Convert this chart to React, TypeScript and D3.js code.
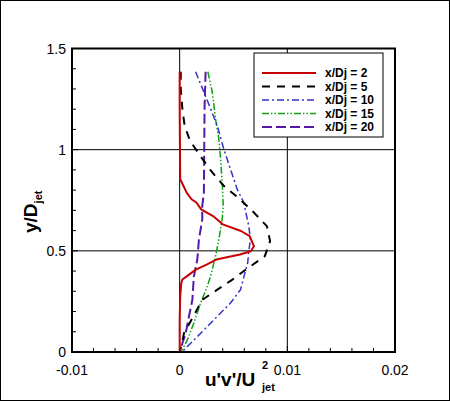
import React from "react";
import * as d3 from "d3";

// ---- data (x values in units of 1e-3) ----
const yX2 = [1.385, 1.2, 0.854, 0.838, 0.788, 0.755, 0.739, 0.705, 0.672, 0.631, 0.598, 0.573, 0.523, 0.498, 0.482, 0.457, 0.432, 0.407, 0.374, 0.358, 0.341, 0.275, 0.159, 0.0];
const vX2 = [0, 0, 0.05, 0.2, 0.65, 1.1, 1.55, 2.0, 3.1, 4.0, 5.7, 6.5, 6.9, 6.6, 5.6, 3.4, 2.5, 1.5, 0.65, 0.25, 0.15, 0.05, 0.0, 0.0];

const yX5 = [1.385, 1.302, 1.202, 1.119, 1.045, 0.97, 0.896, 0.821, 0.755, 0.689, 0.622, 0.548, 0.473, 0.417, 0.358, 0.308, 0.258, 0.169, 0.093, 0.051, 0.0];
const vX5 = [0.1, 0.1, 0.25, 0.46, 0.95, 1.9, 2.9, 4.1, 5.6, 6.9, 8.1, 8.4, 7.9, 6.4, 4.9, 3.5, 2.1, 1.2, 0.4, 0.25, 0.0];

const yX10 = [1.385, 1.285, 1.202, 1.119, 1.003, 0.904, 0.805, 0.739, 0.622, 0.556, 0.498, 0.441, 0.399, 0.308, 0.242, 0.159, 0.076, 0.01, 0.0];
const vX10 = [1.48, 2.25, 2.87, 3.49, 4.1, 4.72, 5.34, 5.95, 6.42, 6.57, 6.42, 6.32, 6.1, 5.65, 4.72, 3.18, 1.64, 0.4, 0.0];

const yX15 = [1.385, 1.285, 1.152, 1.053, 0.954, 0.838, 0.722, 0.656, 0.556, 0.473, 0.374, 0.324, 0.242, 0.143, 0.06, 0.01, 0.0];
const vX15 = [2.62, 3.03, 3.33, 3.64, 3.8, 3.95, 4.05, 3.95, 3.64, 3.33, 2.87, 2.56, 1.94, 1.32, 0.71, 0.25, 0.0];

const yX20 = [1.385, 1.202, 0.788, 0.722, 0.656, 0.556, 0.457, 0.374, 0.258, 0.175, 0.093, 0.043, 0.01, 0.0];
const vX20 = [2.41, 2.31, 2.25, 2.1, 2.1, 1.79, 1.64, 1.32, 1.18, 0.86, 0.56, 0.25, 0.1, 0.0];

const seriesNames = ["x/Dj = 2", "x/Dj = 5", "x/Dj = 10", "x/Dj = 15", "x/Dj = 20"];
const seriesColors = ["#c80000", "#000000", "#3535cc", "#10a010", "#5518a8"];
const seriesDash = ["none", "8,7", "7,3,2,3", "7,2,1.5,2,1.5,2", "10,4"];
const seriesWidth = [2, 2, 1.5, 1.5, 2];

const xTickValues = [-0.01, 0, 0.01, 0.02];
const xTickLabels = ["-0.01", "0", "0.01", "0.02"];
const yTickValues = [0, 0.5, 1, 1.5];
const yTickLabels = ["0", "0.5", "1", "1.5"];

const FONT = "'Liberation Sans', Arial, Helvetica, sans-serif";

export default function App() {
  const W = 450, H = 401;
  const L = 72, R = 395, T = 48.5, B = 352;
  const x = d3.scaleLinear().domain([-0.01, 0.02]).range([L, R]);
  const y = d3.scaleLinear().domain([0, 1.5]).range([B, T]);

  const all = [
    [yX2, vX2],
    [yX5, vX5],
    [yX10, vX10],
    [yX15, vX15],
    [yX20, vX20],
  ];
  const line = d3
    .line<[number, number]>()
    .x((d) => x(d[0] * 0.001))
    .y((d) => y(d[1]));

  const paths = all.map(([ys, vs]) => line(ys.map((yy, i) => [vs[i], yy] as [number, number])) as string);

  const xMinor = d3.range(-0.01, 0.02001, 0.002);
  const yMinor = d3.range(0, 1.5001, 0.1);

  const legX = 254, legY = 53, legW = 129, legH = 84;
  const rowY = (i: number) => 73 + i * 13.5;

  return (
    <svg width={W} height={H} style={{ position: "absolute", left: 0, top: 0, background: "#fff" }}>
      <rect x={0.5} y={0.5} width={W - 1} height={H - 1} fill="#fff" stroke="#000" strokeWidth={1} />
      {/* grid */}
      {[0, 0.01].map((v) => (
        <line key={"gx" + v} x1={x(v)} x2={x(v)} y1={B} y2={T} stroke="#000" strokeWidth={1} />
      ))}
      {[0.5, 1].map((v) => (
        <line key={"gy" + v} x1={L} x2={R} y1={y(v)} y2={y(v)} stroke="#000" strokeWidth={1} />
      ))}
      {/* ticks */}
      {xMinor.map((v, i) => (
        <line key={"xt" + i} x1={x(v)} x2={x(v)} y1={B} y2={B - (i % 5 === 0 ? 6 : 4)} stroke="#000" strokeWidth={1} />
      ))}
      {yMinor.map((v, i) => (
        <line key={"yt" + i} x1={L} x2={L + (i % 5 === 0 ? 6 : 4)} y1={y(v)} y2={y(v)} stroke="#000" strokeWidth={1} />
      ))}
      {/* curves */}
      {[4, 3, 2, 1, 0].map((i) => (
        <path
          key={"s" + i}
          d={paths[i]}
          fill="none"
          stroke={seriesColors[i]}
          strokeWidth={seriesWidth[i]}
          strokeDasharray={seriesDash[i]}
          strokeLinejoin="round"
        />
      ))}
      {/* frame */}
      <rect x={L} y={T} width={R - L} height={B - T} fill="none" stroke="#000" strokeWidth={2} />
      {/* tick labels */}
      {xTickValues.map((v, i) => (
        <text key={"xl" + i} x={x(v)} y={375} textAnchor="middle" fontFamily={FONT} fontSize={14} fill="#000">
          {xTickLabels[i]}
        </text>
      ))}
      {yTickValues.map((v, i) => (
        <text key={"yl" + i} x={66} y={y(v) + 5} textAnchor="end" fontFamily={FONT} fontSize={14} fill="#000">
          {yTickLabels[i]}
        </text>
      ))}
      {/* axis titles */}
      <text x={205} y={386} fontFamily={FONT} fontSize={19} fontWeight="bold" fill="#000">
        u'v'/U
      </text>
      <text x={262} y={391} fontFamily={FONT} fontSize={11} fontWeight="bold" fill="#000">
        jet
      </text>
      <text x={262} y={369} fontFamily={FONT} fontSize={11} fontWeight="bold" fill="#000">
        2
      </text>
      <text
        transform="translate(37,233) rotate(-90)"
        fontFamily={FONT}
        fontSize={19}
        fontWeight="bold"
        fill="#000"
      >
        y/D
        <tspan fontSize={11} dy={5}>jet</tspan>
      </text>
      {/* legend */}
      <rect x={legX} y={legY} width={legW} height={legH} fill="#fff" stroke="#000" strokeWidth={1} />
      {seriesNames.map((n, i) => (
        <g key={"lg" + i}>
          <line
            x1={262}
            x2={316}
            y1={rowY(i)}
            y2={rowY(i)}
            stroke={seriesColors[i]}
            strokeWidth={seriesWidth[i]}
            strokeDasharray={seriesDash[i]}
          />
          <text x={325} y={rowY(i) + 4} fontFamily={FONT} fontSize={12} fontWeight="bold" fill="#000">
            {n}
          </text>
        </g>
      ))}
    </svg>
  );
}
